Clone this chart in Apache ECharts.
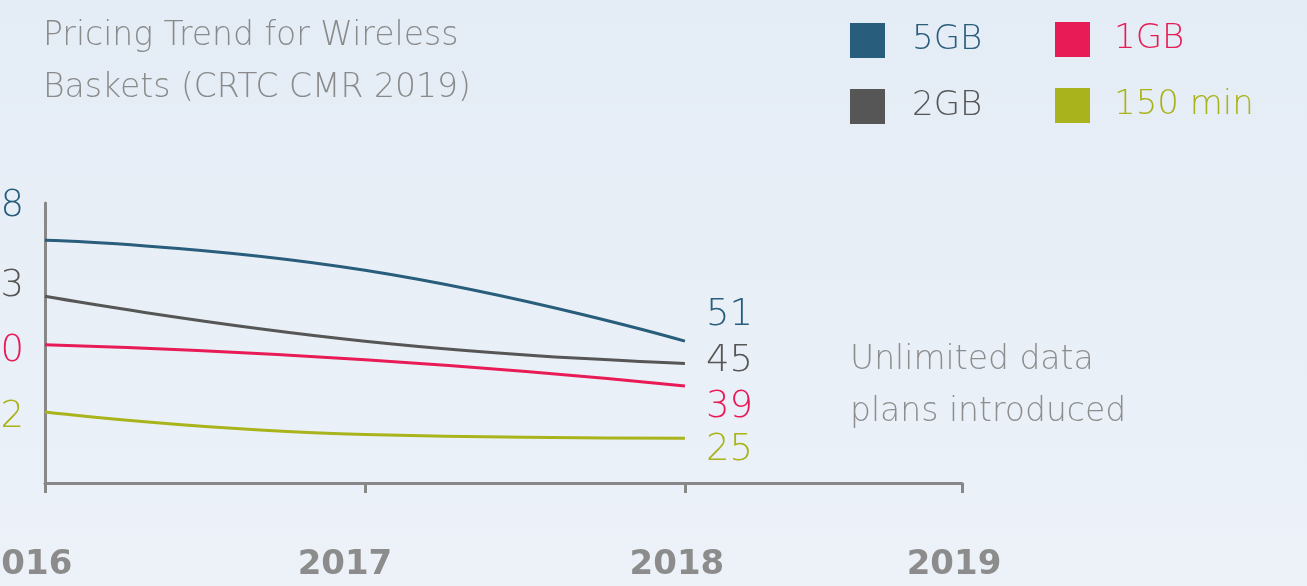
<!DOCTYPE html>
<html>
<head>
<meta charset="utf-8">
<title>Pricing Trend for Wireless Baskets</title>
<script src="https://cdn.jsdelivr.net/npm/echarts@6/dist/echarts.min.js"></script>
<style>
    html, body { margin: 0; padding: 0; }
    #main { width: 1307px; height: 586px; }
</style>
</head>
<body>
<div id="main"></div>
<script>
// data
var years = [2016, 2017, 2018];
var xTickLabels = ['2016', '2017', '2018', '2019'];
var price5GB = [78, 70, 51];
var price2GB = [63, 51, 45];
var price1GB = [50, 46, 39];
var price150min = [32, 26, 25];

var font = '"DejaVu Sans", sans-serif';
var colors = {
    '5GB': '#295d7c',
    '2GB': '#565656',
    '1GB': '#e81b57',
    '150 min': '#a9b31b'
};
// vertical nudges for the start / end value labels (the original stacks them by hand)
var startDy = { '5GB': -34, '2GB': -10, '1GB': 7, '150 min': 5 };
var endDy = { '5GB': -26, '2GB': -2, '1GB': 21, '150 min': 12 };

function makeSeries(name, values) {
    var c = colors[name];
    return {
        name: name,
        type: 'line',
        smooth: 0.5,
        symbol: 'circle',
        symbolSize: 0,
        data: values.map(function (v, i) { return [years[i], v]; }),
        lineStyle: { color: c, width: 3 },
        itemStyle: { color: c },
        label: {
            show: true,
            position: 'left',
            distance: 21,
            offset: [0, startDy[name]],
            color: c,
            fontFamily: font,
            fontWeight: 300,
            fontSize: 37,
            formatter: function (p) {
                return p.dataIndex === 0 ? String(p.value[1]) : '';
            }
        },
        endLabel: {
            show: true,
            distance: 21,
            offset: [0, endDy[name]],
            color: c,
            fontFamily: font,
            fontWeight: 300,
            fontSize: 37,
            formatter: function (p) { return String(p.value[1]); }
        },
        emphasis: { disabled: true },
        animation: false
    };
}

function legendItem(name) {
    return { name: name, textStyle: { color: colors[name] } };
}

var legendText = {
    fontFamily: font,
    fontWeight: 300,
    fontSize: 34,
    lineHeight: 35
};

var chart = echarts.init(document.getElementById('main'));
chart.setOption({
    backgroundColor: {
        type: 'linear', x: 0, y: 0, x2: 0, y2: 1,
        colorStops: [{ offset: 0, color: '#e4ecf5' }, { offset: 1, color: '#edf2f9' }]
    },
    animation: false,
    title: [{
        text: 'Pricing Trend for Wireless\nBaskets (CRTC CMR 2019)',
        left: 38,
        top: 5,
        textStyle: { fontFamily: font, fontWeight: 300, fontSize: 33, lineHeight: 52, color: '#8a8a8a' }
    }, {
        text: 'Unlimited data\nplans introduced',
        left: 845,
        top: 329,
        textStyle: { fontFamily: font, fontWeight: 300, fontSize: 33, lineHeight: 52, color: '#8d8d8d' }
    }],
    legend: [{
        data: [legendItem('5GB'), legendItem('2GB')],
        orient: 'vertical',
        left: 850,
        top: 23,
        padding: 0,
        icon: 'rect',
        itemWidth: 35,
        itemHeight: 35,
        itemGap: 31,
        selectedMode: false,
        textStyle: Object.assign({ padding: [0, 0, 0, 22] }, legendText)
    }, {
        data: [legendItem('1GB'), legendItem('150 min')],
        orient: 'vertical',
        left: 1055,
        top: 22,
        padding: 0,
        icon: 'rect',
        itemWidth: 35,
        itemHeight: 35,
        itemGap: 31,
        selectedMode: false,
        textStyle: Object.assign({ padding: [0, 0, 0, 19] }, legendText)
    }],
    grid: { left: 45, right: 345, top: 203, bottom: 103, outerBoundsMode: 'none', containLabel: false },
    xAxis: {
        type: 'value',
        min: 2016,
        max: 2018.866,
        interval: 1,
        splitLine: { show: false },
        axisLine: { lineStyle: { color: '#888888', width: 3 } },
        axisTick: { show: true, length: 10, lineStyle: { color: '#888888', width: 3 } },
        axisLabel: {
            showMinLabel: true,
            showMaxLabel: true,
            margin: 64,
            color: '#8c8c8c',
            fontFamily: font,
            fontWeight: 'bold',
            fontSize: 34,
            lineHeight: 36,
            formatter: function (v) {
                var t = xTickLabels[Math.round(v) - 2016];
                return (Math.round(v) <= 2017 ? '{a|' : '{b|') + t + '}';
            },
            rich: {
                a: { padding: [0, 40, 0, 0], fontFamily: font, fontWeight: 'bold', fontSize: 34, color: '#8c8c8c' },
                b: { padding: [0, 16, 0, 0], fontFamily: font, fontWeight: 'bold', fontSize: 34, color: '#8c8c8c' }
            }
        }
    },
    yAxis: {
        type: 'value',
        min: 13,
        max: 88,
        splitLine: { show: false },
        axisLine: { show: true, lineStyle: { color: '#888888', width: 3 } },
        axisTick: { show: false },
        axisLabel: { show: false }
    },
    series: [
        makeSeries('5GB', price5GB),
        makeSeries('2GB', price2GB),
        makeSeries('1GB', price1GB),
        makeSeries('150 min', price150min)
    ]
});
</script>
</body>
</html>
